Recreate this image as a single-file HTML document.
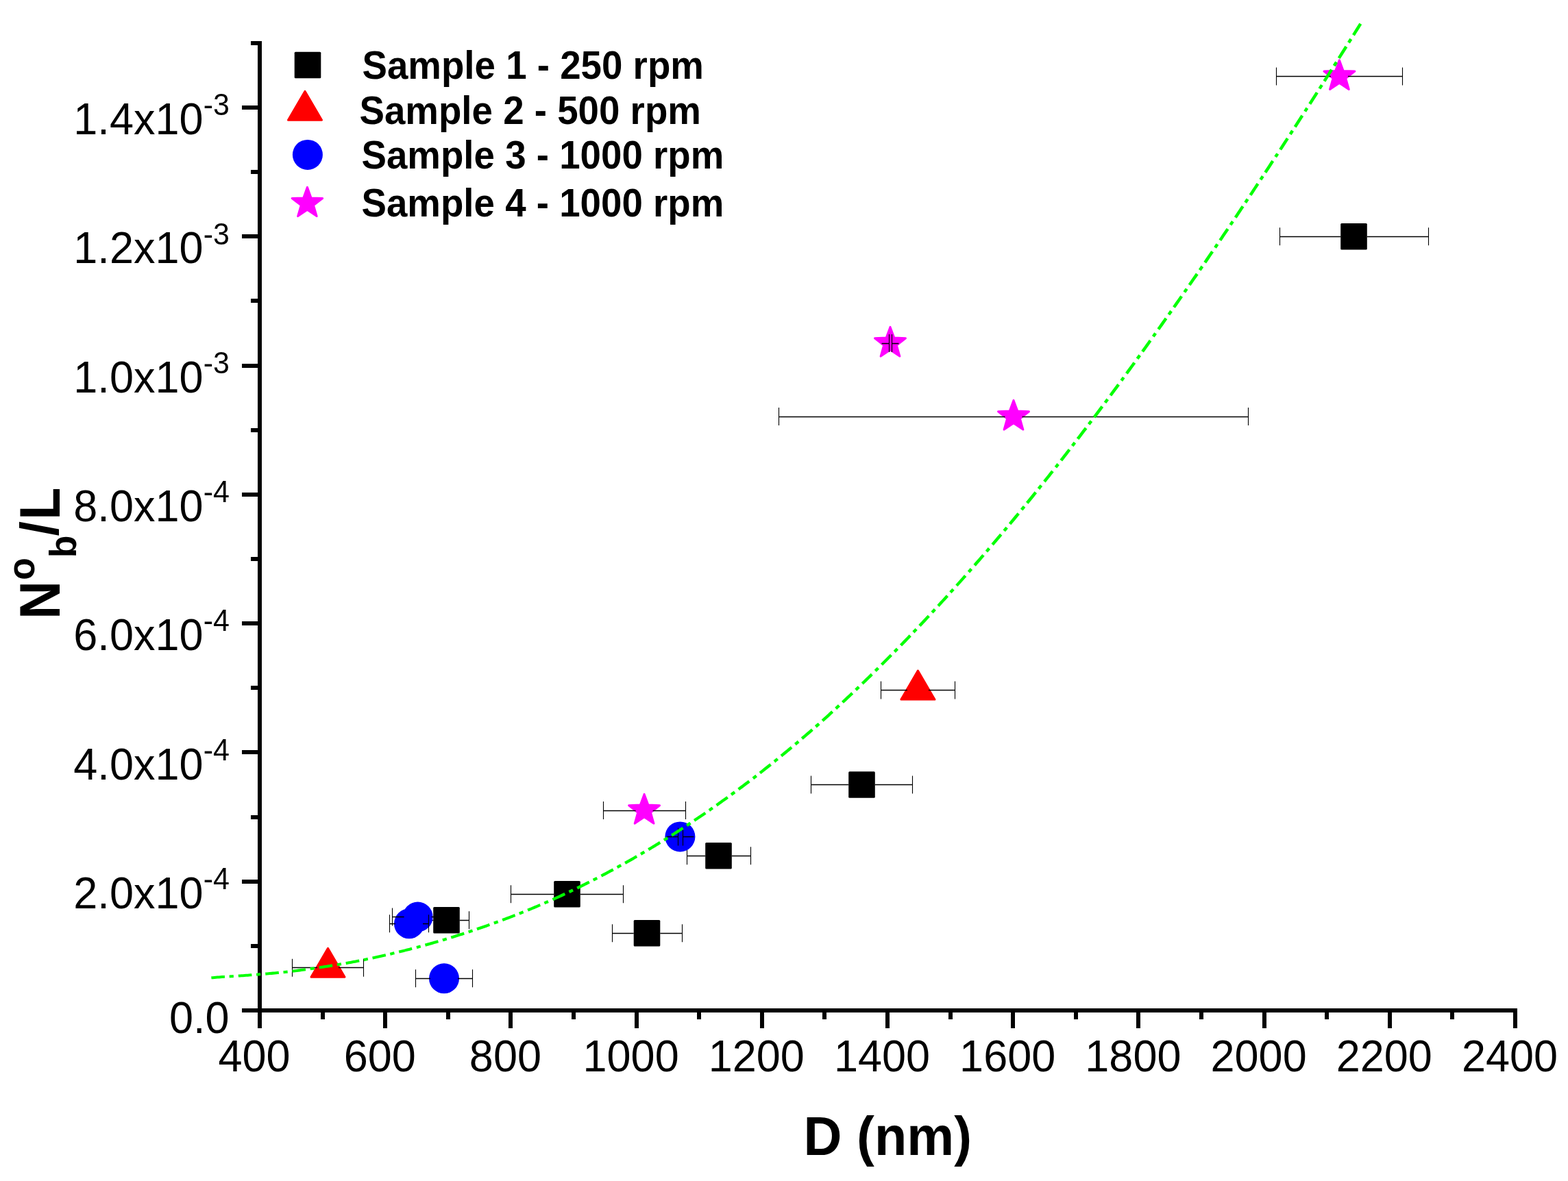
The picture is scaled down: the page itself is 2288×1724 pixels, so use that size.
<!DOCTYPE html><html><head><meta charset="utf-8"><style>html,body{margin:0;padding:0;background:#fff;overflow:hidden}svg{display:block}text{font-family:"Liberation Sans",Arial,sans-serif}</style></head><body>
<svg width="2288" height="1724" viewBox="0 0 2288 1724">
<rect width="2288" height="1724" fill="#fff"/>
<g fill="#000"><rect x="376.00" y="60.00" width="6.00" height="1441.00"/><rect x="353.00" y="1472.00" width="1861.00" height="6.00"/><rect x="366.00" y="1378.00" width="10.00" height="6.00"/><rect x="353.00" y="1284.00" width="23.00" height="6.00"/><rect x="366.00" y="1190.00" width="10.00" height="6.00"/><rect x="353.00" y="1095.00" width="23.00" height="6.00"/><rect x="366.00" y="1001.00" width="10.00" height="6.00"/><rect x="353.00" y="907.00" width="23.00" height="6.00"/><rect x="366.00" y="813.00" width="10.00" height="6.00"/><rect x="353.00" y="719.00" width="23.00" height="6.00"/><rect x="366.00" y="625.00" width="10.00" height="6.00"/><rect x="353.00" y="531.00" width="23.00" height="6.00"/><rect x="366.00" y="436.00" width="10.00" height="6.00"/><rect x="353.00" y="342.00" width="23.00" height="6.00"/><rect x="366.00" y="248.00" width="10.00" height="6.00"/><rect x="353.00" y="154.00" width="23.00" height="6.00"/><rect x="366.00" y="60.00" width="10.00" height="6.00"/><rect x="468.00" y="1478.00" width="6.00" height="10.00"/><rect x="559.00" y="1478.00" width="6.00" height="23.00"/><rect x="651.00" y="1478.00" width="6.00" height="10.00"/><rect x="742.00" y="1478.00" width="6.00" height="23.00"/><rect x="834.00" y="1478.00" width="6.00" height="10.00"/><rect x="926.00" y="1478.00" width="6.00" height="23.00"/><rect x="1017.00" y="1478.00" width="6.00" height="10.00"/><rect x="1109.00" y="1478.00" width="6.00" height="23.00"/><rect x="1200.00" y="1478.00" width="6.00" height="10.00"/><rect x="1292.00" y="1478.00" width="6.00" height="23.00"/><rect x="1384.00" y="1478.00" width="6.00" height="10.00"/><rect x="1475.00" y="1478.00" width="6.00" height="23.00"/><rect x="1567.00" y="1478.00" width="6.00" height="10.00"/><rect x="1658.00" y="1478.00" width="6.00" height="23.00"/><rect x="1750.00" y="1478.00" width="6.00" height="10.00"/><rect x="1842.00" y="1478.00" width="6.00" height="23.00"/><rect x="1933.00" y="1478.00" width="6.00" height="10.00"/><rect x="2025.00" y="1478.00" width="6.00" height="23.00"/><rect x="2116.00" y="1478.00" width="6.00" height="10.00"/><rect x="2208.00" y="1478.00" width="6.00" height="23.00"/></g>
<path d="M1867.50 332.20V358.20M2084.50 332.20V358.20M1183.50 1132.50V1158.50M1331.50 1132.50V1158.50M1002.50 1236.20V1262.20M1095.50 1236.20V1262.20M745.50 1292.30V1318.30M909.50 1292.30V1318.30M618.50 1330.20V1356.20M684.50 1330.20V1356.20M893.50 1349.20V1375.20M995.50 1349.20V1375.20" stroke="#000" stroke-width="1.1" fill="none"/><path d="M1867.50 345.50H1956.20M2084.50 345.50H1994.80M1183.50 1145.50H1238.20M1331.50 1145.50H1276.80M1002.50 1249.50H1029.20M1095.50 1249.50H1067.80M745.50 1305.50H808.20M909.50 1305.50H846.80M618.50 1343.50H632.20M684.50 1343.50H670.80M893.50 1362.50H924.70M995.50 1362.50H963.30" stroke="#000" stroke-width="1.3" fill="none"/>
<g fill="#00f"><circle cx="992.40" cy="1221.40" r="22.0"/><circle cx="609.60" cy="1338.50" r="22.0"/><circle cx="597.00" cy="1348.30" r="22.0"/><circle cx="648.00" cy="1428.30" r="22.0"/></g>
<path d="M989.50 1208.40V1234.40M996.50 1208.40V1234.40M572.50 1325.50V1351.50M646.50 1325.50V1351.50M568.50 1335.30V1361.30M625.50 1335.30V1361.30M606.50 1415.30V1441.30M689.50 1415.30V1441.30" stroke="#000" stroke-width="1.1" fill="none"/><path d="M989.50 1221.50H972.40M996.50 1221.50H1012.40M572.50 1338.50H589.60M646.50 1338.50H629.60M568.50 1348.50H577.00M625.50 1348.50H617.00M606.50 1428.50H628.00M689.50 1428.50H668.00" stroke="#000" stroke-width="1.3" fill="none"/>
<g fill="#000"><rect x="1956.20" y="325.90" width="38.6" height="38.6" rx="1.5"/><rect x="1238.20" y="1126.20" width="38.6" height="38.6" rx="1.5"/><rect x="1029.20" y="1229.90" width="38.6" height="38.6" rx="1.5"/><rect x="808.20" y="1286.00" width="38.6" height="38.6" rx="1.5"/><rect x="632.20" y="1323.90" width="38.6" height="38.6" rx="1.5"/><rect x="924.70" y="1342.90" width="38.6" height="38.6" rx="1.5"/></g>
<g fill="#f00" stroke="#f00" stroke-width="3" stroke-linejoin="round"><path d="M1339.40 979.10L1363.90 1021.10L1314.90 1021.10Z"/><path d="M478.50 1384.30L503.00 1426.30L454.00 1426.30Z"/></g>
<path d="M1285.50 994.60V1020.60M1393.50 994.60V1020.60M426.50 1399.80V1425.80M530.50 1399.80V1425.80" stroke="#000" stroke-width="1.1" fill="none"/><path d="M1285.50 1007.50H1323.90M1393.50 1007.50H1354.90M426.50 1412.50H463.00M530.50 1412.50H494.00" stroke="#000" stroke-width="1.3" fill="none"/>
<g fill="#f0f" stroke="#f0f" stroke-width="3" stroke-linejoin="round"><path d="M1954.40 87.80L1960.16 103.47L1976.84 104.11L1963.72 114.43L1968.27 130.49L1954.40 121.20L1940.53 130.49L1945.08 114.43L1931.96 104.11L1948.64 103.47Z"/><path d="M1299.00 477.40L1304.76 493.07L1321.44 493.71L1308.32 504.03L1312.87 520.09L1299.00 510.80L1285.13 520.09L1289.68 504.03L1276.56 493.71L1293.24 493.07Z"/><path d="M1479.00 584.40L1484.76 600.07L1501.44 600.71L1488.32 611.03L1492.87 627.09L1479.00 617.80L1465.13 627.09L1469.68 611.03L1456.56 600.71L1473.24 600.07Z"/><path d="M940.10 1159.40L945.86 1175.07L962.54 1175.71L949.42 1186.03L953.97 1202.09L940.10 1192.80L926.23 1202.09L930.78 1186.03L917.66 1175.71L934.34 1175.07Z"/></g>
<path d="M1862.50 98.40V124.40M2046.50 98.40V124.40M1297.50 488.00V514.00M1301.50 488.00V514.00M1136.50 595.00V621.00M1821.50 595.00V621.00M880.50 1170.00V1196.00M1000.50 1170.00V1196.00" stroke="#000" stroke-width="1.1" fill="none"/><path d="M1862.50 111.50H1941.90M2046.50 111.50H1966.90M1297.50 501.50H1286.50M1301.50 501.50H1311.50M1136.50 608.50H1466.50M1821.50 608.50H1491.50M880.50 1183.50H927.60M1000.50 1183.50H952.60" stroke="#000" stroke-width="1.3" fill="none"/>
<path d="M308.38 1427.31L310.62 1427.14L312.85 1426.97L315.09 1426.79L317.33 1426.61L319.56 1426.44L321.80 1426.26L324.04 1426.07L326.28 1425.92L327.95 1425.83M334.66 1425.43L336.90 1425.29L339.14 1425.16L340.82 1425.05M347.81 1424.60L350.04 1424.45L352.28 1424.30L354.52 1424.15L356.76 1423.99L358.99 1423.83L361.23 1423.67L363.47 1423.51L365.70 1423.35L367.38 1423.22M374.09 1422.71L376.33 1422.53L378.57 1422.35L380.24 1422.22" stroke="#00ff00" stroke-width="4.0" fill="none" stroke-linecap="butt"/>
<path d="M387.24 1421.63L389.47 1421.44L391.71 1421.25L393.95 1421.05L396.18 1420.85L398.42 1420.65L400.66 1420.45L402.89 1420.24L405.13 1420.03L406.81 1419.87M413.52 1419.22L415.76 1419.00L417.99 1418.78L419.67 1418.60M426.38 1417.79L428.62 1417.51L430.86 1417.22L433.09 1416.94L435.33 1416.65L437.57 1416.36L439.81 1416.06L442.04 1415.76L444.28 1415.46L445.96 1415.23M452.67 1414.31L454.91 1413.99L457.14 1413.67L458.82 1413.43M465.81 1412.41L468.05 1412.07L470.29 1411.73L472.52 1411.39L474.76 1411.05L477.00 1410.70L479.23 1410.35L481.47 1410.00L483.71 1409.64L485.11 1409.42M491.82 1408.32L494.05 1407.95L496.29 1407.57L497.97 1407.28M504.68 1406.13L506.92 1405.74L509.15 1405.34L511.39 1404.93L513.63 1404.51L515.87 1404.07L518.10 1403.64L520.34 1403.20L522.58 1402.76L524.25 1402.42M530.69 1401.12L532.92 1400.66L535.16 1400.20L536.84 1399.85M543.55 1398.43L545.79 1397.95L548.02 1397.46L550.26 1396.97L552.50 1396.48L554.73 1395.99L556.97 1395.49L559.21 1394.98L561.44 1394.47L562.84 1394.15M569.27 1392.66L571.51 1392.14L573.75 1391.61L575.43 1391.21M582.14 1389.59L584.37 1389.04L586.61 1388.49L588.85 1387.93L591.09 1387.37L593.32 1386.80L595.56 1386.23L597.80 1385.66L600.03 1385.08L601.15 1384.79" stroke="#00ff00" stroke-width="4.1" fill="none" stroke-linecap="butt"/>
<path d="M607.86 1383.03L610.10 1382.44L612.34 1381.84L613.74 1381.46M620.45 1379.63L622.68 1379.01L624.92 1378.39L627.16 1377.76L629.39 1377.13L631.63 1376.49L633.87 1375.85L636.11 1375.20L638.34 1374.56L639.46 1374.23M645.89 1372.33L648.13 1371.66L650.37 1370.99L651.77 1370.57M658.20 1368.60L660.43 1367.90L662.67 1367.21L664.91 1366.50L667.14 1365.80L669.38 1365.09L671.62 1364.37L673.86 1363.65L676.09 1362.92L677.21 1362.56M683.64 1360.44L685.88 1359.70L688.12 1358.95L689.52 1358.48M695.95 1356.29L698.18 1355.51L700.42 1354.74L702.66 1353.98L704.89 1353.21L707.13 1352.43L709.37 1351.65L711.61 1350.87L713.84 1350.08L714.40 1349.88M720.83 1347.59L723.07 1346.78L725.31 1345.96L726.71 1345.45M733.14 1343.08L735.37 1342.24L737.61 1341.40L739.85 1340.56L742.09 1339.71L744.32 1338.85L746.56 1337.99L748.80 1337.13L751.03 1336.26L751.59 1336.04M757.74 1333.62L759.98 1332.73L762.22 1331.84L763.62 1331.27M770.05 1328.67L772.29 1327.75L774.52 1326.83L776.76 1325.90L779.00 1324.97L781.23 1324.03L783.47 1323.09L785.71 1322.14L787.94 1321.18L788.22 1321.07M794.38 1318.42L796.61 1317.44L798.85 1316.47L799.97 1315.97M806.40 1313.11L808.64 1312.11L810.87 1311.10L813.11 1310.08L815.35 1309.06L817.59 1308.04L819.82 1307.00L822.06 1305.97L824.30 1304.93" stroke="#00ff00" stroke-width="4.2" fill="none" stroke-linecap="butt"/>
<path d="M830.45 1302.03L832.69 1300.97L834.92 1299.90L836.04 1299.37M842.19 1296.40L844.43 1295.31L846.67 1294.22L848.90 1293.12L851.14 1292.01L853.38 1290.90L855.62 1289.78L857.85 1288.66L859.81 1287.67M865.68 1284.69L867.92 1283.55L870.16 1282.39L871.27 1281.82M877.43 1278.61L879.66 1277.44L881.90 1276.26L884.14 1275.07L886.37 1273.88L888.61 1272.69L890.85 1271.48L893.09 1270.28L894.76 1269.37M900.64 1266.16L902.87 1264.94L905.11 1263.71L906.23 1263.10M912.10 1259.84L914.34 1258.59L916.57 1257.34L918.81 1256.08L921.05 1254.81L923.29 1253.54L925.52 1252.26L927.76 1250.98L929.16 1250.17M935.03 1246.77L937.27 1245.46L939.50 1244.14L940.34 1243.65M946.22 1240.17L948.45 1238.84L950.69 1237.50L952.93 1236.15L955.16 1234.80L957.40 1233.44L959.64 1232.07L961.87 1230.70L963.27 1229.85M968.87 1226.39L971.10 1225.00L973.34 1223.60L974.18 1223.07M980.05 1219.37L982.29 1217.94L984.52 1216.52L986.76 1215.08L989.00 1213.65L991.24 1212.20L993.47 1210.75L995.71 1209.30L996.55 1208.75M1002.14 1205.08L1004.38 1203.60L1006.62 1202.12L1007.45 1201.56M1013.05 1197.82L1015.28 1196.31L1017.52 1194.80L1019.76 1193.28L1022.00 1191.76L1024.23 1190.23L1026.47 1188.69L1028.71 1187.15L1029.27 1186.77M1034.86 1182.90L1037.10 1181.35L1039.33 1179.79L1039.89 1179.40M1045.48 1175.48L1047.72 1173.90L1049.96 1172.31L1052.20 1170.72L1054.43 1169.12L1056.67 1167.52L1058.91 1165.91L1061.14 1164.30L1061.70 1163.89" stroke="#00ff00" stroke-width="4.3" fill="none" stroke-linecap="butt"/>
<path d="M1067.02 1160.03L1069.25 1158.39L1071.49 1156.75L1072.05 1156.34M1077.64 1152.21L1079.88 1150.54L1082.12 1148.87L1084.35 1147.20L1086.59 1145.52L1088.83 1143.83L1091.06 1142.14L1093.30 1140.44M1098.89 1136.16L1101.13 1134.44L1103.37 1132.72L1103.65 1132.50M1108.96 1128.38L1111.20 1126.62L1113.43 1124.86L1115.67 1123.09L1117.91 1121.32L1120.15 1119.54L1122.38 1117.75L1124.62 1115.96M1129.93 1111.69L1132.17 1109.88L1134.41 1108.06L1134.69 1107.83M1140.00 1103.49L1142.24 1101.66L1144.47 1099.81L1146.71 1097.96L1148.95 1096.11L1151.18 1094.25L1153.42 1092.38L1155.10 1090.98M1160.41 1086.51L1162.65 1084.62L1164.89 1082.73L1165.17 1082.49M1170.20 1078.20L1172.44 1076.28L1174.67 1074.36L1176.91 1072.43L1179.15 1070.50L1181.38 1068.56L1183.62 1066.61L1185.30 1065.15M1190.33 1060.74L1192.57 1058.77L1194.81 1056.79L1195.09 1056.55M1200.12 1052.08L1202.36 1050.07L1204.59 1048.06L1206.83 1046.03L1209.07 1044.01L1211.30 1041.98L1213.54 1039.94L1214.66 1038.92M1219.69 1034.30L1221.93 1032.24L1224.17 1030.18L1224.45 1029.92M1229.48 1025.25L1231.72 1023.16L1233.95 1021.07L1236.19 1018.97L1238.43 1016.87L1240.67 1014.76L1242.90 1012.64L1243.74 1011.85M1248.78 1007.06L1251.01 1004.93L1253.25 1002.79M1258.28 997.95L1260.52 995.79L1262.76 993.62L1264.99 991.45L1267.23 989.27L1269.47 987.08L1271.70 984.89L1272.26 984.35M1277.30 979.39L1279.53 977.18L1281.49 975.25M1286.53 970.24L1288.76 968.01L1291.00 965.77L1293.24 963.52L1295.47 961.27L1297.71 959.01L1299.95 956.76L1300.51 956.20M1305.26 951.39L1307.50 949.12L1309.45 947.13M1314.49 941.99L1316.73 939.69L1318.96 937.39L1321.20 935.09L1323.44 932.77L1325.67 930.46L1327.91 928.13L1328.19 927.84M1332.94 922.89L1335.18 920.55L1337.14 918.49M1341.89 913.49L1344.13 911.12L1346.37 908.75L1348.60 906.38L1350.84 904.00L1353.08 901.61L1355.31 899.22M1360.07 894.11L1362.30 891.70L1364.26 889.59M1369.02 884.44L1371.25 882.01L1373.49 879.57L1375.73 877.13L1377.96 874.68L1380.20 872.22L1382.44 869.76M1386.91 864.82L1389.15 862.35L1391.11 860.17M1395.86 854.88L1398.10 852.38L1400.33 849.88L1402.57 847.37L1404.81 844.85L1407.05 842.33L1408.72 840.43" stroke="#00ff00" stroke-width="4.4" fill="none" stroke-linecap="butt"/>
<path d="M1413.48 835.05L1415.71 832.51L1417.39 830.59M1422.15 825.16L1424.38 822.60L1426.62 820.03L1428.86 817.46L1431.09 814.88L1433.33 812.29L1435.01 810.35M1439.48 805.15L1441.72 802.54L1443.40 800.59M1448.15 795.02L1450.39 792.40L1452.63 789.76L1454.86 787.13L1457.10 784.48L1459.34 781.83L1460.73 780.18M1465.21 774.86L1467.45 772.19L1469.12 770.18M1473.60 764.83L1475.83 762.14L1478.07 759.44L1480.31 756.75L1482.55 754.04L1484.78 751.33L1486.18 749.64M1490.66 744.20L1492.89 741.47L1494.57 739.42M1498.76 734.28L1501.00 731.53L1503.24 728.77L1505.48 726.00L1507.71 723.23L1509.95 720.46L1511.35 718.72M1515.54 713.50L1517.78 710.70L1519.46 708.61M1523.93 703.00L1526.17 700.18L1528.41 697.37L1530.64 694.54L1532.88 691.71L1535.12 688.88L1535.96 687.82M1540.43 682.13L1542.67 679.28L1544.06 677.50M1548.26 672.14L1550.50 669.27L1552.73 666.40L1554.97 663.52L1557.21 660.64L1559.44 657.75L1560.56 656.31M1564.76 650.88L1566.99 647.97L1568.39 646.15M1572.59 640.69L1574.82 637.77L1577.06 634.84L1579.30 631.91L1581.53 628.98L1583.77 626.04L1584.61 624.93M1588.81 619.41L1591.04 616.45L1592.44 614.60M1596.63 609.04L1598.87 606.07L1601.11 603.09L1603.35 600.11L1605.58 597.12L1607.82 594.13L1608.38 593.38M1612.57 587.76L1614.81 584.75L1616.21 582.87M1620.40 577.22L1622.64 574.19L1624.88 571.17L1627.11 568.14L1629.35 565.10L1631.59 562.06L1632.15 561.30M1636.34 555.58L1638.58 552.53L1639.70 551.00M1643.89 545.26L1646.13 542.19L1648.37 539.11L1650.60 536.03L1652.84 532.95L1655.08 529.86L1655.36 529.47M1659.55 523.67L1661.79 520.57L1663.19 518.63M1667.10 513.19L1669.34 510.07L1671.58 506.95L1673.81 503.83L1676.05 500.70L1678.29 497.56L1678.57 497.17M1682.76 491.29L1685.00 488.14L1686.12 486.56M1690.31 480.65L1692.55 477.49L1694.78 474.33L1697.02 471.16L1699.26 467.98L1701.50 464.81M1705.41 459.27L1707.65 456.09L1709.05 454.10M1712.96 448.53L1715.20 445.34L1717.43 442.15L1719.67 438.95L1721.91 435.74L1724.15 432.54M1728.34 426.52L1730.58 423.30L1731.70 421.69M1735.61 416.04L1737.85 412.81L1740.08 409.58L1742.32 406.34L1744.56 403.10L1746.80 399.85M1750.71 394.16L1752.95 390.90L1754.35 388.87M1758.26 383.15L1760.50 379.88L1762.73 376.61L1764.97 373.33L1767.21 370.05L1769.17 367.18M1773.08 361.42L1775.32 358.13L1776.44 356.48M1780.35 350.70L1782.59 347.40L1784.83 344.09L1787.06 340.77L1789.30 337.46L1791.54 334.14M1795.45 328.32L1797.69 324.99L1798.81 323.32M1802.72 317.48L1804.96 314.14L1807.20 310.79L1809.43 307.44L1811.67 304.09L1813.63 301.16M1817.26 295.70L1819.50 292.33L1820.62 290.65M1824.53 284.75L1826.77 281.38L1829.01 278.00L1831.24 274.62L1833.48 271.24L1835.44 268.27M1839.35 262.34L1841.59 258.94L1842.71 257.24M1846.34 251.72L1848.58 248.31L1850.82 244.90L1853.06 241.49L1855.29 238.07L1857.25 235.08M1861.16 229.10L1863.40 225.67L1864.24 224.38M1868.16 218.38L1870.39 214.94L1872.63 211.51L1874.87 208.06L1877.10 204.62L1878.78 202.04M1882.70 196.00L1884.93 192.54L1886.05 190.82M1889.69 185.20L1891.92 181.73L1894.16 178.27L1896.40 174.80L1898.64 171.33L1900.31 168.72M1904.23 162.63L1906.46 159.14L1907.30 157.83M1911.22 151.72L1913.46 148.23L1915.69 144.73L1917.93 141.23L1920.17 137.73L1921.84 135.10M1925.48 129.40L1927.72 125.89L1928.84 124.13M1932.47 118.42L1934.71 114.90L1936.94 111.38L1939.18 107.86L1941.42 104.33L1943.10 101.69M1946.73 95.95L1948.97 92.42L1950.09 90.65M1953.72 84.90L1955.96 81.36L1958.20 77.82L1960.43 74.28L1962.67 70.73L1964.35 68.07M1967.98 62.30L1970.22 58.74L1971.34 56.97M1974.97 51.19L1977.21 47.63L1979.45 44.06L1981.69 40.50L1983.92 36.93L1985.32 34.70" stroke="#00ff00" stroke-width="4.5" fill="none" stroke-linecap="butt"/>
<g fill="#000"><rect x="429.70" y="75.70" width="38.6" height="38.6" rx="1.5"/></g>
<g fill="#f00" stroke="#f00" stroke-width="3" stroke-linejoin="round"><path d="M445.00 133.30L469.50 175.30L420.50 175.30Z"/></g>
<g fill="#00f"><circle cx="448.9" cy="225.9" r="22"/></g>
<g fill="#f0f" stroke="#f0f" stroke-width="3" stroke-linejoin="round"><path d="M448.40 273.30L454.04 288.93L470.65 289.47L457.53 299.67L462.15 315.63L448.40 306.30L434.65 315.63L439.27 299.67L426.15 289.47L442.76 288.93Z"/></g>
<text transform="translate(528.40,115.00) scale(1,1.035)" font-size="54.7" font-weight="bold" text-anchor="start">Sample 1 - 250 rpm</text>
<text transform="translate(524.40,180.90) scale(1,1.035)" font-size="54.7" font-weight="bold" text-anchor="start">Sample 2 - 500 rpm</text>
<text transform="translate(527.40,245.70) scale(1,1.035)" font-size="54.7" font-weight="bold" text-anchor="start">Sample 3 - 1000 rpm</text>
<text transform="translate(527.40,316.00) scale(1,1.035)" font-size="54.7" font-weight="bold" text-anchor="start">Sample 4 - 1000 rpm</text>
<text transform="translate(371.00,1564.00) scale(1,1.035)" font-size="63" font-weight="normal" text-anchor="middle">400</text>
<text transform="translate(554.20,1564.00) scale(1,1.035)" font-size="63" font-weight="normal" text-anchor="middle">600</text>
<text transform="translate(737.40,1564.00) scale(1,1.035)" font-size="63" font-weight="normal" text-anchor="middle">800</text>
<text transform="translate(920.60,1564.00) scale(1,1.035)" font-size="63" font-weight="normal" text-anchor="middle">1000</text>
<text transform="translate(1103.80,1564.00) scale(1,1.035)" font-size="63" font-weight="normal" text-anchor="middle">1200</text>
<text transform="translate(1287.00,1564.00) scale(1,1.035)" font-size="63" font-weight="normal" text-anchor="middle">1400</text>
<text transform="translate(1470.20,1564.00) scale(1,1.035)" font-size="63" font-weight="normal" text-anchor="middle">1600</text>
<text transform="translate(1653.40,1564.00) scale(1,1.035)" font-size="63" font-weight="normal" text-anchor="middle">1800</text>
<text transform="translate(1836.60,1564.00) scale(1,1.035)" font-size="63" font-weight="normal" text-anchor="middle">2000</text>
<text transform="translate(2019.80,1564.00) scale(1,1.035)" font-size="63" font-weight="normal" text-anchor="middle">2200</text>
<text transform="translate(2203.00,1564.00) scale(1,1.035)" font-size="63" font-weight="normal" text-anchor="middle">2400</text>
<text transform="translate(296.50,1325.91) scale(1,1.035)" font-size="63" font-weight="normal" text-anchor="end">2.0x10</text>
<text transform="translate(296.70,1298.01) scale(1,1.035)" font-size="43" font-weight="normal" text-anchor="start">-4</text>
<text transform="translate(296.50,1137.63) scale(1,1.035)" font-size="63" font-weight="normal" text-anchor="end">4.0x10</text>
<text transform="translate(296.70,1109.73) scale(1,1.035)" font-size="43" font-weight="normal" text-anchor="start">-4</text>
<text transform="translate(296.50,949.34) scale(1,1.035)" font-size="63" font-weight="normal" text-anchor="end">6.0x10</text>
<text transform="translate(296.70,921.44) scale(1,1.035)" font-size="43" font-weight="normal" text-anchor="start">-4</text>
<text transform="translate(296.50,761.06) scale(1,1.035)" font-size="63" font-weight="normal" text-anchor="end">8.0x10</text>
<text transform="translate(296.70,733.16) scale(1,1.035)" font-size="43" font-weight="normal" text-anchor="start">-4</text>
<text transform="translate(296.50,572.77) scale(1,1.035)" font-size="63" font-weight="normal" text-anchor="end">1.0x10</text>
<text transform="translate(296.70,544.87) scale(1,1.035)" font-size="43" font-weight="normal" text-anchor="start">-3</text>
<text transform="translate(296.50,384.48) scale(1,1.035)" font-size="63" font-weight="normal" text-anchor="end">1.2x10</text>
<text transform="translate(296.70,356.58) scale(1,1.035)" font-size="43" font-weight="normal" text-anchor="start">-3</text>
<text transform="translate(296.50,196.20) scale(1,1.035)" font-size="63" font-weight="normal" text-anchor="end">1.4x10</text>
<text transform="translate(296.70,168.30) scale(1,1.035)" font-size="43" font-weight="normal" text-anchor="start">-3</text>
<text transform="translate(334.50,1508.00) scale(1,1.035)" font-size="63" font-weight="normal" text-anchor="end">0.0</text>
<text transform="translate(1172.62,1685.90) scale(1,1.035)" font-size="77.5" font-weight="bold" text-anchor="start">D (nm)</text>
<text transform="translate(86.90,903.98) rotate(-90) scale(1,1.088)" font-size="77.5" font-weight="bold">N</text>
<text transform="translate(50.20,846.79) rotate(-90) scale(1,1.035)" font-size="53.5" font-weight="bold">o</text>
<text transform="translate(110.50,814.33) rotate(-90) scale(1,1.035)" font-size="53.5" font-weight="bold">b</text>
<text transform="translate(85.40,782.56) rotate(-90) scale(1,1.0)" font-size="77.5" font-weight="bold">/</text>
<text transform="translate(86.90,758.98) rotate(-90) scale(1,1.088)" font-size="77.5" font-weight="bold">L</text>
</svg></body></html>
